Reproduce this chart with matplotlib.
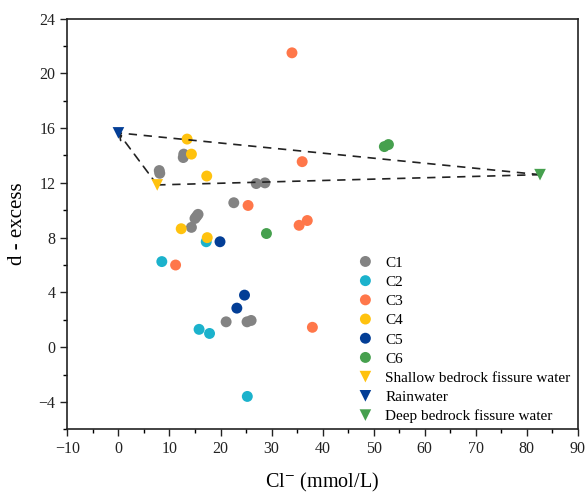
import matplotlib
matplotlib.use("Agg")
import matplotlib.pyplot as plt
from matplotlib.ticker import MultipleLocator

plt.rcParams['font.family'] = ['Liberation Serif', 'DejaVu Serif']
plt.rcParams['mathtext.fontset'] = 'stix'

# Cl- (mmol/L) and d-excess per sample group
c1_cl = [8.0, 8.1, 12.8, 12.7, 15.0, 15.6, 15.3, 14.3, 22.6, 27.0, 28.7, 21.1, 25.2, 26.0]
c1_d = [12.9, 12.7, 14.1, 13.85, 9.4, 9.7, 9.55, 8.75, 10.55, 11.95, 12.0, 1.85, 1.85, 1.95]
c2_cl = [8.5, 17.2, 15.8, 17.85, 25.25]
c2_d = [6.25, 7.7, 1.3, 1.0, -3.6]
c3_cl = [34.0, 36.0, 25.4, 35.4, 37.0, 11.2, 38.0]
c3_d = [21.5, 13.55, 10.35, 8.9, 9.25, 6.0, 1.45]
c4_cl = [13.45, 14.3, 17.3, 12.3, 17.4]
c4_d = [15.2, 14.1, 12.5, 8.65, 8.0]
c5_cl = [19.9, 24.7, 23.2]
c5_d = [7.7, 3.8, 2.85]
c6_cl = [29.0, 52.1, 52.9]
c6_d = [8.3, 14.65, 14.8]

# end members
shallow = (7.6, 11.85)
rain = (0.0, 15.65)
deep = (82.6, 12.6)

groups = [
    ("C1", c1_cl, c1_d, "#838383"),
    ("C2", c2_cl, c2_d, "#1BB2CC"),
    ("C3", c3_cl, c3_d, "#FF774A"),
    ("C4", c4_cl, c4_d, "#FFC20E"),
    ("C5", c5_cl, c5_d, "#033E96"),
    ("C6", c6_cl, c6_d, "#46A04E"),
]
ends = [
    ("Shallow bedrock fissure water", shallow, "#FFC20E"),
    ("Rainwater", rain, "#033E96"),
    ("Deep bedrock fissure water", deep, "#46A04E"),
]

fig = plt.figure(figsize=(5.86, 4.96), dpi=100)
ax = fig.add_axes([0.115, 0.1345, 0.871, 0.828])

# mixing lines between the end members
ax.plot([shallow[0], deep[0]], [shallow[1], deep[1]], ls=(0, (5, 4)), color="#222222", lw=1.2, zorder=3)
ax.plot([deep[0], rain[0]], [deep[1], rain[1]], ls=(0, (5, 4)), color="#222222", lw=1.2, zorder=3)
ax.annotate("", xy=rain, xytext=shallow,
            arrowprops=dict(arrowstyle="->", ls=(0, (5, 4)), color="#222222", lw=1.2,
                            shrinkA=0, shrinkB=0), zorder=3)

for name, x, y, col in groups:
    ax.scatter(x, y, s=62, color=col, edgecolors="none", label=name, zorder=2)
for name, (x, y), col in ends:
    ax.scatter([x], [y], s=70, marker="v", color=col, edgecolors="none", label=name, zorder=4)

ax.set_xlim(-10, 90)
ax.set_ylim(-6, 24)
ax.xaxis.set_major_locator(MultipleLocator(10))
ax.xaxis.set_minor_locator(MultipleLocator(5))
ax.yaxis.set_major_locator(MultipleLocator(4))
ax.yaxis.set_minor_locator(MultipleLocator(2))
ax.tick_params(which="major", direction="out", length=5, width=1, labelsize=11.5, colors="#222222")
ax.tick_params(which="minor", direction="out", length=3, width=1)
for sp in ax.spines.values():
    sp.set_linewidth(1.2)
    sp.set_color("#222222")

ax.set_xlabel("Cl$^{-}$ (mmol/L)", fontsize=14.5, labelpad=10)
ax.set_ylabel("d - excess", fontsize=15, labelpad=8)

fig.legend(loc="upper left", bbox_to_anchor=(344 / 586, 1 - 250 / 496), frameon=False,
           fontsize=11, labelspacing=0.36, handlelength=2.0, handletextpad=0.3,
           borderaxespad=0, scatteryoffsets=[0.5])

fig.savefig("out.png", dpi=100)
